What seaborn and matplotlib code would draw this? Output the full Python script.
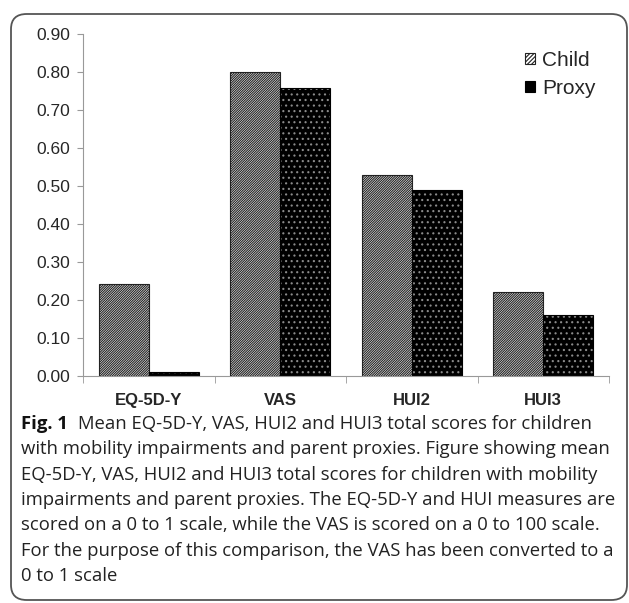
import matplotlib
matplotlib.use("Agg")
import matplotlib.pyplot as plt
import seaborn as sns
import pandas as pd
from matplotlib.patches import FancyBboxPatch, Patch

categories = ["EQ-5D-Y", "VAS", "HUI2", "HUI3"]
child = [0.243, 0.80, 0.529, 0.22]
proxy = [0.01, 0.759, 0.49, 0.16]
series = ["Child", "Proxy"]
yticks = [0.0, 0.1, 0.2, 0.3, 0.4, 0.5, 0.6, 0.7, 0.8, 0.9]

caption_bold = "Fig. 1"
caption_lines = [
    "Mean EQ-5D-Y, VAS, HUI2 and HUI3 total scores for children",
    "with mobility impairments and parent proxies. Figure showing mean",
    "EQ-5D-Y, VAS, HUI2 and HUI3 total scores for children with mobility",
    "impairments and parent proxies. The EQ-5D-Y and HUI measures are",
    "scored on a 0 to 1 scale, while the VAS is scored on a 0 to 100 scale.",
    "For the purpose of this comparison, the VAS has been converted to a",
    "0 to 1 scale",
]

df = pd.DataFrame({
    "measure": categories * 2,
    "score": child + proxy,
    "who": [series[0]] * 4 + [series[1]] * 4,
})

sns.set_style("white")
plt.rcParams["font.family"] = ["Liberation Sans", "DejaVu Sans"]
plt.rcParams["hatch.linewidth"] = 0.8

W, H = 629, 603
fig = plt.figure(figsize=(W / 100, H / 100), dpi=100)
ax = fig.add_axes([83 / W, 1 - 376 / H, (609 - 83) / W, (376 - 34) / H])

sns.barplot(data=df, x="measure", y="score", hue="who", order=categories,
            hue_order=series, width=0.76, ax=ax, legend=False,
            palette=["white", "black"], saturation=1)

child_hatch = "/" * 14
for bar in ax.containers[0]:
    bar.set_facecolor("white")
    bar.set_edgecolor("#222222")
    bar.set_hatch(child_hatch)
    bar.set_linewidth(0.8)
for bar in ax.containers[1]:
    bar.set_facecolor("black")
    bar.set_edgecolor("#8a8a8a")
    bar.set_hatch("...")
    bar.set_linewidth(0)
    x0, y0 = bar.get_x(), bar.get_y()
    ax.add_patch(plt.Rectangle((x0, y0), bar.get_width(), bar.get_height(),
                               fill=False, edgecolor="black", linewidth=0.8,
                               zorder=bar.get_zorder() + 0.1))

ax.set_xlim(-0.5, 3.5)
ax.set_ylim(0, 0.9)
ax.set_yticks(yticks)
ax.set_yticklabels([f"{v:.2f}" for v in yticks], fontsize=12.5)
ax.set_xticks(range(len(categories)))
ax.set_xticklabels(categories, fontsize=12, fontweight="bold")
ax.set_xticks([-0.5, 0.5, 1.5, 2.5, 3.5], minor=True)
ax.tick_params(axis="x", which="major", length=0, pad=12)
ax.tick_params(axis="x", which="minor", length=5, color="#999999", direction="out", bottom=True)
ax.tick_params(axis="y", length=4, color="#999999", direction="out", left=True, pad=5)
ax.set_xlabel("")
ax.set_ylabel("")
for s in ["top", "right"]:
    ax.spines[s].set_visible(False)
for s in ["left", "bottom"]:
    ax.spines[s].set_color("#999999")
    ax.spines[s].set_linewidth(0.8)

handles = [Patch(facecolor="white", edgecolor="#222222", hatch="/" * 8, linewidth=0.8),
           Patch(facecolor="black", edgecolor="black", linewidth=0.8)]
leg = ax.legend(handles, series, loc="upper left", bbox_to_anchor=(0.825, 0.975),
                frameon=False, fontsize=15, handlelength=0.45, handleheight=0.45,
                handletextpad=0.35, labelspacing=0.45, borderaxespad=0)

# rounded border
fig.patches.append(FancyBboxPatch((11 / W, 3 / H), (W - 11 - 2) / W, (600 - 3) / H - 11 / H,
                                  boxstyle="round,pad=0,rounding_size=0.025",
                                  transform=fig.transFigure, fill=False,
                                  edgecolor="#555555", linewidth=1.3))

# caption
cap_font = ["Open Sans", "DejaVu Sans"]
fs = 13.3
x0 = 21 / W
ys = [424 + 25.3 * i for i in range(len(caption_lines))]
fig.canvas.draw()
r = fig.canvas.get_renderer()
tb = fig.text(x0, 1 - ys[0] / H, caption_bold, fontsize=fs, fontweight="bold",
              family=cap_font, va="center", ha="left", color="#111111")
bb = tb.get_window_extent(renderer=r)
fig.text((bb.x1 + 10) / W, 1 - ys[0] / H, caption_lines[0], fontsize=fs,
         family=cap_font, va="center", ha="left", color="#222222")
for line, y in zip(caption_lines[1:], ys[1:]):
    fig.text(x0, 1 - y / H, line, fontsize=fs, family=cap_font, va="center",
             ha="left", color="#222222")

fig.savefig("out.png", dpi=100)
